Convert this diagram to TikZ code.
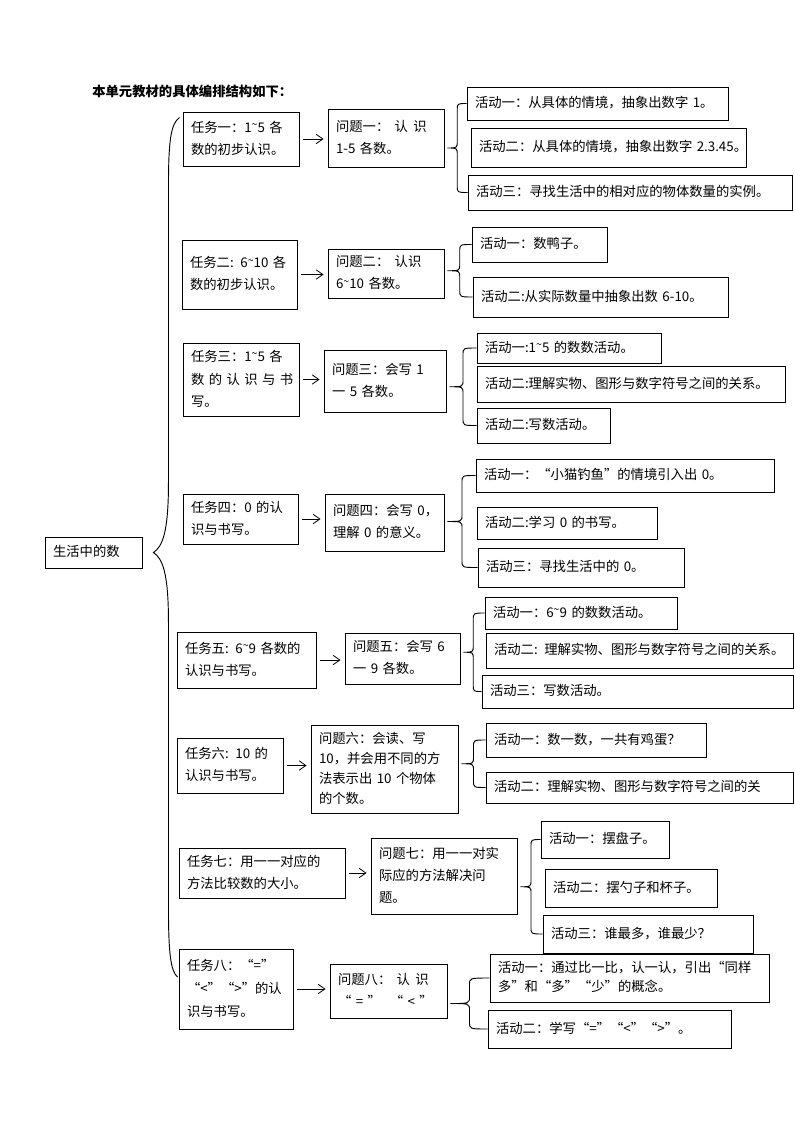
\documentclass[tikz,border=0pt]{standalone}
\usepackage{fontspec}
\setmainfont{Noto Sans CJK SC}
\usetikzlibrary{arrows.meta,calc}
\newcommand\tld{\raisebox{0.5ex}{\footnotesize\textasciitilde}}
\newcommand\gp{\hspace{4pt}}
\tikzset{
  box/.style={draw, line width=0.7pt, inner xsep=6pt, inner ysep=1pt, align=left,
    font=\fontsize{10pt}{16.5pt}\selectfont},
  arr/.style={-{Straight Barb[length=5pt,width=7pt]}, line width=0.6pt, shorten <=3pt, shorten >=3pt},
  brc/.style={line width=0.7pt},
  titlef/.style={font=\fontsize{10pt}{12pt}\selectfont\bfseries}
}
\newcommand\bxn[7][16.5pt]{%
  \pgfmathsetmacro\bxw{(#5-#3)*0.75-12}%
  \pgfmathsetmacro\bxh{(#6-#4)*0.75}%
  \node[box, text width=\bxw pt, minimum height=\bxh pt, font=\fontsize{10pt}{#1}\selectfont] (#2) at ({(#3+#5)/2},{(#4+#6)/2}) {\begin{tabular}{@{}l@{}}#7\end{tabular}};}
\newcommand\arw[2]{\draw[arr] (#1.east) -- (#1.east -| #2.west);}
\newcommand\cb[3]{%
  \coordinate (bm) at ($(#2.west)!0.5!(#3.west)$);
  \coordinate (bt) at ($(#1.east |- bm)+(3,0)$);
  \coordinate (bc) at ($(bt)!0.5!(bm)$);
  \draw[brc] (#2.west) .. controls (#2.west -| bc) .. ($(#2.west -| bc)+(0,7)$)
    -- ($(bc)+(0,-7)$) .. controls (bc) .. (bt) .. controls (bc) .. ($(bc)+(0,7)$)
    -- ($(#3.west -| bc)+(0,-7)$) .. controls (#3.west -| bc) .. (#3.west);}
\begin{document}
\begin{tikzpicture}[x=0.75pt,y=-0.75pt]
\useasboundingbox (0,0) rectangle (794,1123);
\fill[white] (0,0) rectangle (794,1123);
\node[titlef, anchor=west, inner sep=0pt] (title) at (92,91) {本单元教材的具体编排结构如下：};

\bxn{root}{45}{537}{142}{568}{生活中的数}

% 1
\bxn{t1}{183}{112}{299}{166}{任务一：1\tld5 各\\数的初步认识。}
\bxn{p1}{328}{109}{444}{167}{问题一：\gp 认\gp 识\\1-5 各数。}
\bxn{a11}{467}{87}{728}{120}{活动一：从具体的情境，抽象出数字 1。}
\bxn{a12}{471}{128}{746}{167}{活动二：从具体的情境，抽象出数字 2.3.45。}
\bxn{a13}{468}{175}{792}{210}{活动三：寻找生活中的相对应的物体数量的实例。}
% 2
\bxn{t2}{182}{240}{297}{309}{任务二: 6\tld10 各\\数的初步认识。}
\bxn{p2}{328}{249}{444}{298}{问题二：\gp 认识\\6\tld10 各数。}
\bxn{a21}{472}{227}{607}{262}{活动一：数鸭子。}
\bxn{a22}{473}{277}{728}{317}{活动二:从实际数量中抽象出数 6-10。}
% 3
\bxn[17pt]{t3}{183}{343}{299}{416}{任务三：1\tld5 各\\数 的 认 识 与 书\\写。}
\bxn{p3}{324}{350}{446}{412}{问题三：会写 1\\一 5 各数。}
\bxn{a31}{477}{333}{661}{363}{活动一:1\tld5 的数数活动。}
\bxn{a32}{477}{366}{785}{402}{活动二:理解实物、图形与数字符号之间的关系。}
\bxn{a33}{477}{408}{610}{443}{活动二:写数活动。}
% 4
\bxn{t4}{183}{494}{298}{544}{任务四：0 的认\\识与书写。}
\bxn{p4}{325}{494}{444}{551}{问题四：会写 0，\\理解 0 的意义。}
\bxn{a41}{476}{459}{774}{492}{活动一：“小猫钓鱼”的情境引入出 0。}
\bxn{a42}{477}{507}{657}{539}{活动二:学习 0 的书写。}
\bxn{a43}{478}{548}{684}{587}{活动三：寻找生活中的 0。}
% 5
\bxn{t5}{177}{632}{316}{688}{任务五: 6\tld9 各数的\\认识与书写。}
\bxn{p5}{345}{633}{460}{684}{问题五：会写 6\\一 9 各数。}
\bxn{a51}{485}{597}{677}{629}{活动一：6\tld9 的数数活动。}
\bxn{a52}{486}{633}{793}{668}{活动二: 理解实物、图形与数字符号之间的关系。}
\bxn{a53}{482}{675}{793}{708}{活动三：写数活动。}
% 6
\bxn{t6}{177}{738}{283}{793}{任务六: 10 的\\认识与书写。}
\bxn[15pt]{p6}{311}{725}{458}{813}{问题六：会读、写\\10，并会用不同的方\\法表示出 10 个物体\\的个数。}
\bxn{a61}{486}{723}{706}{757}{活动一：数一数，一共有鸡蛋？}
\bxn{a62}{486}{772}{793}{803}{活动二：理解实物、图形与数字符号之间的关}
% 7
\bxn{t7}{179}{848}{345}{898}{任务七：用一一对应的\\方法比较数的大小。}
\bxn{p7}{371}{838}{517}{914}{问题七：用一一对实\\际应的方法解决问\\题。}
\bxn{a71}{541}{821}{669}{858}{活动一：摆盘子。}
\bxn{a72}{545}{869}{717}{907}{活动二：摆勺子和杯子。}
\bxn{a73}{543}{915}{753}{953}{活动三：谁最多，谁最少？}
% 8
\bxn[17pt]{t8}{179}{949}{293}{1029}{任务八：“=”\\“<”“>”的认\\识与书写。}
\bxn{p8}{330}{964}{447}{1018}{问题八：\gp 认\gp 识\\“ = ” \ “ < ”}
\bxn[14pt]{a81}{490}{954}{769}{1002}{活动一：通过比一比，认一认，引出“同样\\多”和“多”“少”的概念。}
\bxn{a82}{488}{1010}{731}{1048}{活动二：学写“=”“<”“>”。}

% arrows
\arw{t1}{p1}\arw{t2}{p2}\arw{t3}{p3}\arw{t4}{p4}
\arw{t5}{p5}\arw{t6}{p6}\arw{t7}{p7}\arw{t8}{p8}

% braces
\cb{p1}{a11}{a13}
\cb{p2}{a21}{a22}
\cb{p3}{a31}{a33}
\cb{p4}{a41}{a43}
\cb{p5}{a51}{a53}
\cb{p6}{a61}{a62}
\cb{p7}{a71}{a73}
\cb{p8}{a81}{a82}

% big brace
\coordinate (BT) at ($(root.east)+(11,0)$);
\coordinate (BX) at ($(BT)+(15,0)$);
\coordinate (BA) at ($(t1.north west)+(-3,6)$);
\coordinate (BB) at ($(t8.west)+(-1,-12)$);
\draw[brc] (BA) .. controls ($(BA -| BX)+(2,6)$) and ($(BA -| BX)+(0,25)$) .. ($(BA -| BX)+(0,70)$)
  -- ($(BX)+(0,-70)$) .. controls ($(BX)+(0,-20)$) and ($(BX)+(-6,-6)$) .. (BT)
  .. controls ($(BX)+(-6,6)$) and ($(BX)+(0,20)$) .. ($(BX)+(0,70)$)
  -- ($(BB -| BX)+(0,-70)$) .. controls ($(BB -| BX)+(0,-25)$) and ($(BB -| BX)+(2,-6)$) .. (BB);
\end{tikzpicture}
\end{document}
